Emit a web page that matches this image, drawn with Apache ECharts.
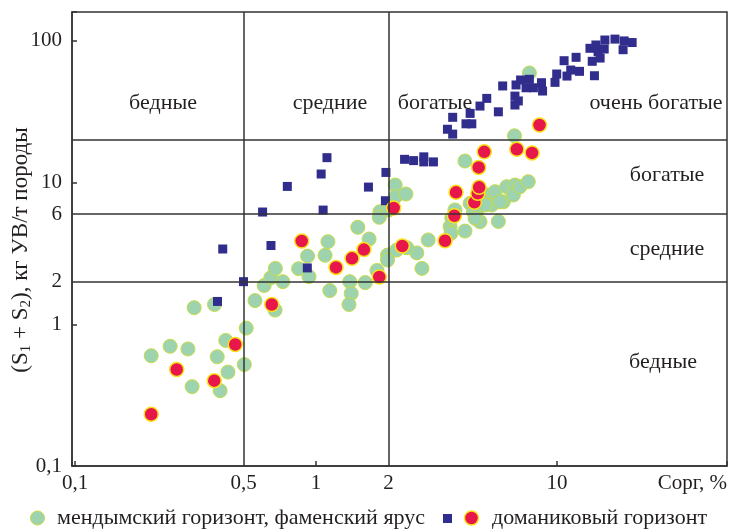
<!DOCTYPE html>
<html><head><meta charset="utf-8">
<script src="https://cdn.jsdelivr.net/npm/echarts@6/dist/echarts.min.js"></script>
<style>html,body{margin:0;padding:0;background:#fff}#c{width:729px;height:531px}</style>
</head><body><div id="c"></div>
<script>
// Сорг (%), S1+S2 (кг УВ/т породы)
const mendym = [
[0.207,0.60],[0.248,0.70],[0.294,0.67],[0.312,1.31],[0.379,1.38],[0.306,0.363],[0.389,0.59],[0.422,0.77],[0.431,0.46],[0.40,0.34],
[0.504,0.52],[0.513,0.94],[0.558,1.47],[0.609,1.88],[0.649,2.13],[0.678,2.48],[0.728,2.0],[0.676,1.26],[0.846,2.47],[0.922,3.03],
[0.935,2.17],[1.09,3.07],[1.12,3.83],[1.14,1.73],[1.38,2.0],[1.40,1.65],[1.37,1.38],[1.60,1.97],[1.79,2.40],[1.49,4.84],
[1.66,4.0],[1.84,6.23],[1.83,5.69],[2.0,6.41],[2.13,9.62],[2.14,7.98],[2.36,8.31],[1.98,3.08],[1.98,2.84],[2.16,3.34],
[2.62,3.19],[2.75,2.48],[2.38,3.47],[2.92,3.94],[3.60,4.89],[3.63,4.39],[3.66,5.6],[3.77,6.41],[4.15,4.55],[4.15,14.2],
[6.66,21.4],[7.68,59.4],[5.71,5.32],[4.36,7.14],[4.65,6.41],[4.79,5.30],[5.11,8.18],[5.36,6.95],[5.53,8.63],[5.99,7.33],
[6.18,9.36],[6.69,9.62],[6.59,8.18],[7.02,9.36],[7.60,10.15],[4.50,6.23],[4.57,5.6],[4.79,7.75],[5.03,6.95],[5.80,7.33]
];
const famen = [
[1.11,15.0],[1.05,11.5],[0.76,9.4],[1.95,11.8],[1.65,9.3],[1.94,7.45],[0.60,6.2],[1.07,6.4],[0.41,3.4],[0.65,3.6],
[0.92,2.5],[0.50,2.0],[0.39,1.45],[2.33,14.6],[2.54,14.3],[2.80,15.2],[2.80,14.0],[3.07,14.0],
[3.51,23.8],[3.69,22.0],[3.69,28.9],[4.19,26.0],[4.43,26.0],[4.36,30.8],[4.79,34.7],[5.11,39.3],[5.71,31.6],[5.95,48.1],
[6.69,40.8],[6.91,37.7],[6.69,35.3],[6.76,48.9],[7.06,53.0],[7.68,53.6],[7.44,46.7],[7.98,46.7],[8.62,50.7],[8.71,44.3],
[9.81,51.0],[9.97,58.4],[11.0,56.5],[11.4,62.3],[12.4,61.0],[10.7,72.5],[12.0,76.6],[14.3,56.8],[14.0,71.8],[13.7,88.7],
[14.5,93.6],[15.1,75.7],[14.8,83.9],[15.8,101.5],[15.7,87.7],[17.4,103],[19.0,100],[18.8,86.7],[20.5,97.4]
];
const domanik = [
[0.207,0.232],[0.264,0.48],[0.378,0.40],[0.462,0.72],[0.655,1.38],[0.872,3.87],[1.21,2.52],[1.41,2.92],[1.58,3.37],[1.83,2.16],
[2.28,3.57],[2.10,6.62],[3.43,3.89],[3.75,5.84],[3.81,8.54],[4.54,7.26],[4.69,8.40],[4.75,9.26],[4.73,12.8],[4.99,16.5],
[6.81,17.2],[7.88,16.2],[8.46,25.5]
];
const xBounds = [0.5, 2];          // vertical class boundaries (labelled ticks)
const yBounds = [2, 6, 20];        // horizontal class boundaries
const yBoundLabels = [2, 6];       // boundaries that carry a tick label
const xMajorTicks = [0.1, 1, 10];
const yMajorTicks = [0.1, 1, 10, 100];
const legendNames = ['мендымский горизонт, фаменский ярус', 'доманиковый горизонт'];
const zoneNames = ['бедные', 'средние', 'богатые', 'очень богатые', 'богатые', 'средние', 'бедные'];
const xName = 'Сорг, %';
const yNameRich = '{a|(S}{s|1}{a| + S}{s|2}{a|), кг УВ/т породы}';

const FONT = "'Liberation Serif','DejaVu Serif',serif";
const TXT = '#231f20';
const LINE = '#333333';
const fmt = v => String(v).replace('.', ',');
const isIn = (arr, v) => arr.some(t => Math.abs(t - v) / t < 1e-6);

const chart = echarts.init(document.getElementById('c'), null, {renderer: 'canvas'});
const lblStyle = {fontFamily: FONT, fontSize: 21, color: TXT};

const markData = [];
xBounds.forEach(v => markData.push({xAxis: v, label: Object.assign({show: true, position: 'start', distance: 7, formatter: fmt(v)}, lblStyle)}));
yBounds.forEach(v => markData.push({yAxis: v, label: Object.assign({show: yBoundLabels.includes(v), position: 'start', distance: 10, formatter: fmt(v)}, lblStyle)}));

const zonePos = [[163,103],[330,103],[435,103],[656,103],[667,175],[667,249],[663,362]];
const graphics = zoneNames.map((t, i) => ({
  type: 'text', x: zonePos[i][0], y: zonePos[i][1], silent: true,
  style: {text: t, font: "22px 'Liberation Serif'", fill: TXT, textAlign: 'center', textVerticalAlign: 'middle'}
}));
graphics.push(
  {type: 'text', x: 21, y: 250, rotation: Math.PI / 2, silent: true,
   style: {text: yNameRich, fill: TXT, textAlign: 'center', textVerticalAlign: 'middle',
     rich: {a: {fontFamily: FONT, fontSize: 23, fill: TXT}, s: {fontFamily: FONT, fontSize: 15, fill: TXT, padding: [10, 0, 0, 0]}}}},
  {type: 'circle', shape: {cx: 37.5, cy: 518, r: 7}, style: {fill: '#9dd3af', stroke: '#c6dc45', lineWidth: 1}},
  {type: 'text', x: 57, y: 518, style: {text: legendNames[0], font: "22px 'Liberation Serif'", fill: TXT, textVerticalAlign: 'middle'}},
  {type: 'rect', shape: {x: 443, y: 514, width: 9, height: 9}, style: {fill: '#312d8c'}},
  {type: 'circle', shape: {cx: 471.5, cy: 518, r: 7}, style: {fill: '#e8174b', stroke: '#f7e21b', lineWidth: 1.5}},
  {type: 'text', x: 492, y: 518, style: {text: legendNames[1], font: "22px 'Liberation Serif'", fill: TXT, textVerticalAlign: 'middle'}}
);

chart.setOption({
  animation: false,
  backgroundColor: '#fff',
  grid: {left: 72, right: 2, top: 12, bottom: 65, show: true, borderColor: LINE, borderWidth: 1.5, containLabel: false, outerBoundsMode: 'none'},
  xAxis: {
    type: 'log', logBase: 10, min: 0.0971, max: 50.75,
    name: xName, nameLocation: 'end', nameGap: 0,
    nameTextStyle: {fontFamily: FONT, fontSize: 21, color: TXT, align: 'right', verticalAlign: 'top', padding: [7, 0, 0, 0]},
    axisLine: {show: true, lineStyle: {color: LINE, width: 1.5}},
    axisTick: {show: true, inside: true, length: 5, lineStyle: {color: LINE, width: 1.5}},
    axisLabel: Object.assign({margin: 7, formatter: v => isIn(xMajorTicks, v) ? fmt(v) : ''}, lblStyle),
    splitLine: {show: false}, minorTick: {show: false}
  },
  yAxis: {
    type: 'log', logBase: 10, min: 0.1, max: 160,
    axisLine: {show: true, lineStyle: {color: LINE, width: 1.5}},
    axisTick: {show: true, inside: true, length: 5, lineStyle: {color: LINE, width: 1.5}},
    axisLabel: Object.assign({margin: 10, formatter: v => isIn(yMajorTicks, v) ? fmt(v) : ''}, lblStyle),
    splitLine: {show: false}, minorTick: {show: false}
  },
  series: [
    {type: 'scatter', name: legendNames[0], data: mendym, symbol: 'circle', symbolSize: 14,
     itemStyle: {color: '#9dd3af', borderColor: '#c6dc45', borderWidth: 1, opacity: 1},
     markLine: {silent: true, symbol: ['none', 'none'], lineStyle: {color: LINE, width: 1.5, type: 'solid'}, emphasis: {disabled: true}, data: markData},
     z: 2},
    {type: 'scatter', name: 'фаменский ярус', data: famen, symbol: 'rect', symbolSize: 9,
     itemStyle: {color: '#312d8c', opacity: 1}, z: 3},
    {type: 'scatter', name: legendNames[1], data: domanik, symbol: 'circle', symbolSize: 14,
     itemStyle: {color: '#e8174b', borderColor: '#f7e21b', borderWidth: 1.5, opacity: 1}, z: 4}
  ],
  graphic: graphics
});
</script></body></html>
